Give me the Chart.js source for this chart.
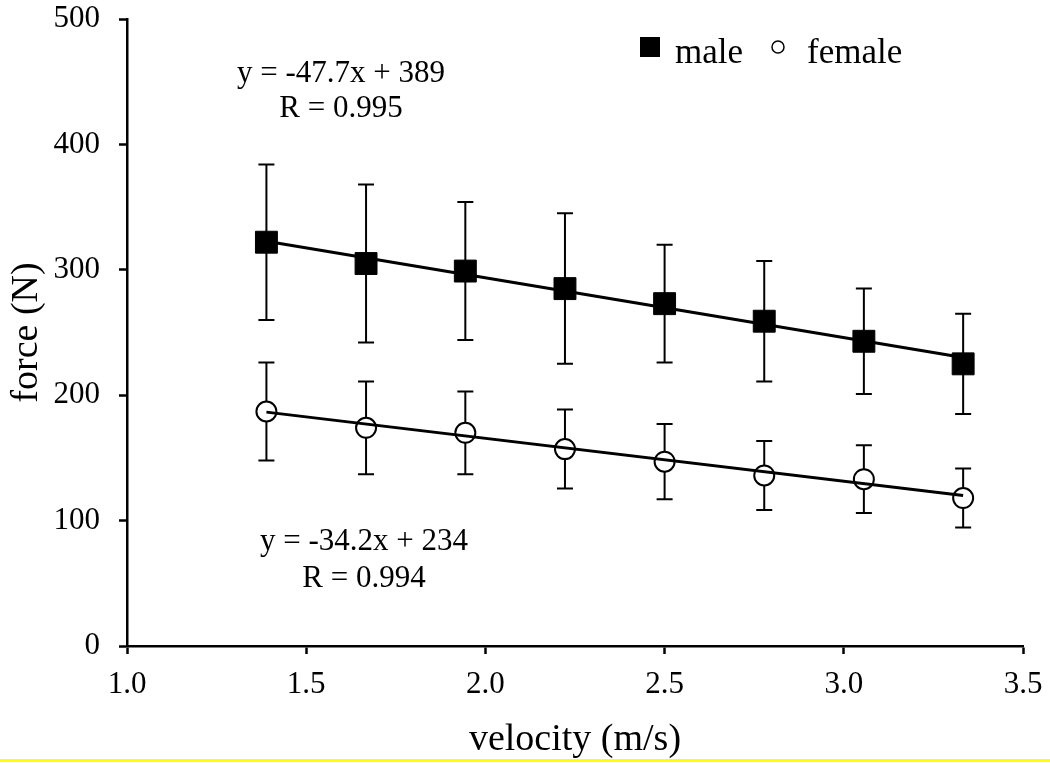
<!DOCTYPE html>
<html>
<head>
<meta charset="utf-8">
<script src="https://cdn.jsdelivr.net/npm/chart.js@4.4.0/dist/chart.umd.min.js"></script>
<style>
  html, body { margin: 0; padding: 0; background: #fff; }
  #wrap { position: relative; width: 1050px; height: 763px; }
  #chart1 { position: absolute; left: 0; top: 0; }
  #edge { position: absolute; left: 0; top: 759px; width: 1050px; height: 3px; background: #ffff00; }
</style>
</head>
<body>
<div id="wrap">
  <canvas id="chart1" width="1050" height="763"></canvas>
  <div id="edge"></div>
</div>
<script>
const velocity = [1.389, 1.667, 1.944, 2.222, 2.5, 2.778, 3.056, 3.333];
const maleForce = [322, 305, 299, 285, 273, 259, 243, 225];
const maleSD = [62, 63, 55, 60, 47, 48, 42, 40];
const femaleForce = [187, 174, 170, 157, 147, 136, 133, 118];
const femaleSD = [39, 37, 33, 31.5, 30, 27.5, 27, 23.5];
// regression lines: value at first and last velocity
const maleFit = [322.7, 230.0];
const femaleFit = [186.5, 120.0];
const seriesNames = ['male', 'female'];
const maleFitText = ['y = -47.7x + 389', 'R = 0.995'];
const femaleFitText = ['y = -34.2x + 234', 'R = 0.994'];
const xTicks = [1.0, 1.5, 2.0, 2.5, 3.0, 3.5];
const yTicks = [0, 100, 200, 300, 400, 500];

const serif = "'Liberation Serif', 'Times New Roman', serif";

function points(xs, ys) {
  return ys.map((v, i) => ({ x: xs[i], y: v }));
}

// vertical error bars with caps, drawn under the markers
const errorBars = {
  id: 'errorBars',
  beforeDatasetsDraw(chart) {
    const { ctx, scales: { x, y } } = chart;
    ctx.save();
    ctx.strokeStyle = '#000';
    ctx.lineWidth = 2;
    [[maleForce, maleSD], [femaleForce, femaleSD]].forEach(([vals, sd]) => {
      vals.forEach((v, i) => {
        const px = x.getPixelForValue(velocity[i]);
        const top = y.getPixelForValue(v + sd[i]);
        const bot = y.getPixelForValue(v - sd[i]);
        ctx.beginPath();
        ctx.moveTo(px, top); ctx.lineTo(px, bot);
        ctx.moveTo(px - 8, top); ctx.lineTo(px + 8, top);
        ctx.moveTo(px - 8, bot); ctx.lineTo(px + 8, bot);
        ctx.stroke();
      });
    });
    ctx.restore();
  }
};

// legend and fit equations
const labelsPlugin = {
  id: 'labelsPlugin',
  afterDraw(chart) {
    const ctx = chart.ctx;
    ctx.save();
    ctx.fillStyle = '#000';
    ctx.strokeStyle = '#000';

    ctx.fillRect(640, 37, 20, 20);
    ctx.lineWidth = 1.5;
    ctx.beginPath();
    ctx.arc(778, 47, 6, 0, Math.PI * 2);
    ctx.stroke();
    ctx.font = '35px ' + serif;
    ctx.textAlign = 'left';
    ctx.textBaseline = 'alphabetic';
    ctx.fillText(seriesNames[0], 675, 63);
    ctx.fillText(seriesNames[1], 807, 63);

    ctx.font = '31px ' + serif;
    ctx.textAlign = 'center';
    ctx.fillText(maleFitText[0], 341, 82);
    ctx.fillText(maleFitText[1], 341, 117);
    ctx.fillText(femaleFitText[0], 364, 550);
    ctx.fillText(femaleFitText[1], 364, 587);
    ctx.restore();
  }
};

document.addEventListener("DOMContentLoaded", function() {
  const ctx1 = document.getElementById('chart1').getContext('2d');
  const chart1 = new Chart(ctx1, {
    type: 'scatter',
    data: {
      datasets: [{
        label: 'male fit',
        data: [{ x: velocity[0], y: maleFit[0] }, { x: velocity[velocity.length - 1], y: maleFit[1] }],
        showLine: true,
        borderColor: '#000',
        borderWidth: 3,
        pointRadius: 0,
        order: 0
      }, {
        label: 'female fit',
        data: [{ x: velocity[0], y: femaleFit[0] }, { x: velocity[velocity.length - 1], y: femaleFit[1] }],
        showLine: true,
        borderColor: '#000',
        borderWidth: 3,
        pointRadius: 0,
        order: 0
      }, {
        label: seriesNames[0],
        data: points(velocity, maleForce),
        pointStyle: 'rect',
        pointRadius: 15.5,
        backgroundColor: '#000',
        borderColor: '#000',
        borderWidth: 1,
        order: 1
      }, {
        label: seriesNames[1],
        data: points(velocity, femaleForce),
        pointStyle: 'circle',
        pointRadius: 10,
        backgroundColor: '#fff',
        borderColor: '#000',
        borderWidth: 2,
        order: 1
      }]
    },
    options: {
      responsive: false,
      animation: false,
      layout: { padding: 0 },
      plugins: {
        legend: { display: false },
        tooltip: { enabled: false }
      },
      scales: {
        x: {
          type: 'linear',
          min: 1.0,
          max: 3.5,
          afterBuildTicks: s => { s.ticks = xTicks.map(v => ({ value: v })); },
          afterFit: s => { s.height = 117; s.paddingLeft = 0; s.paddingRight = 27; },
          grid: { drawOnChartArea: false, tickLength: 8, color: '#000', tickWidth: 2.5 },
          border: { color: '#000', width: 2.5 },
          ticks: {
            color: '#000',
            font: { family: serif, size: 31 },
            padding: 12,
            maxRotation: 0,
            callback: v => Number(v).toFixed(1)
          },
          title: {
            display: true,
            text: 'velocity (m/s)',
            color: '#000',
            font: { family: serif, size: 38 },
            padding: { top: 3, bottom: 0 }
          }
        },
        y: {
          min: 0,
          max: 500,
          afterBuildTicks: s => { s.ticks = yTicks.map(v => ({ value: v })); },
          afterFit: s => { s.width = 127; s.paddingTop = 19; s.paddingBottom = 0; },
          grid: { drawOnChartArea: false, tickLength: 8, color: '#000', tickWidth: 2.5 },
          border: { color: '#000', width: 2.5 },
          ticks: {
            color: '#000',
            font: { family: serif, size: 31 },
            padding: 19
          },
          title: {
            display: true,
            text: 'force (N)',
            color: '#000',
            font: { family: serif, size: 38 },
            padding: { top: 4, bottom: 0 }
          }
        }
      }
    },
    plugins: [errorBars, labelsPlugin]
  });
});
</script>
</body>
</html>
